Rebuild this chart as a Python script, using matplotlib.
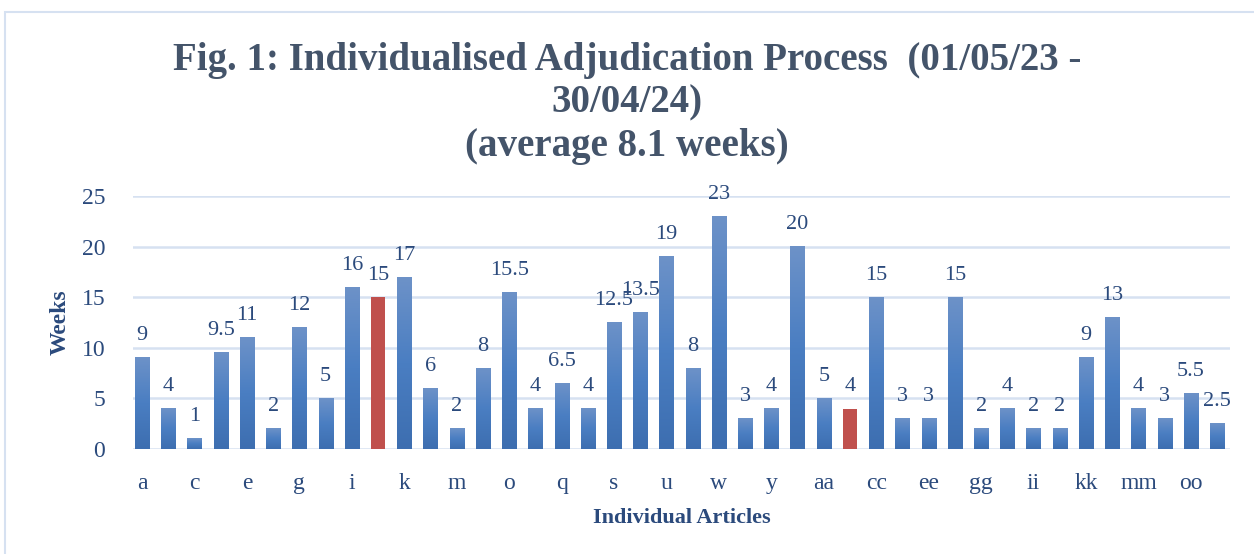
import numpy as np
import matplotlib.pyplot as plt
from matplotlib.patches import Rectangle
from matplotlib.colors import LinearSegmentedColormap

articles = ['a', 'b', 'c', 'd', 'e', 'f', 'g', 'h', 'i', 'j', 'k', 'l', 'm', 'n',
            'o', 'p', 'q', 'r', 's', 't', 'u', 'v', 'w', 'x', 'y', 'z',
            'aa', 'bb', 'cc', 'dd', 'ee', 'ff', 'gg', 'hh', 'ii', 'jj', 'kk', 'll',
            'mm', 'nn', 'oo', 'pp']
weeks = [9, 4, 1, 9.5, 11, 2, 12, 5, 16, 15, 17, 6, 2, 8, 15.5, 4, 6.5, 4, 12.5, 13.5,
         19, 8, 23, 3, 4, 20, 5, 4, 15, 3, 3, 15, 2, 4, 2, 2, 9, 13, 4, 3, 5.5, 2.5]
highlighted = ['j', 'bb']

title = "Fig. 1: Individualised Adjudication Process  (01/05/23 -\n30/04/24)\n(average 8.1 weeks)"

text_col = '#2B4A7C'
title_col = '#44546A'
grid_col = '#D6E1F1'
red = '#C0504D'
grad = LinearSegmentedColormap.from_list('bluegrad', ['#3D6EB0', '#4A7EC2', '#6D92C8'])

plt.rcParams['font.family'] = ['Liberation Serif', 'DejaVu Serif']

fig = plt.figure(figsize=(12.54, 5.54), dpi=100)
ax = fig.add_axes([0.106, 0.1895, 0.875, 0.4565])

x = np.arange(len(articles))
w = 0.54
grad_img = np.linspace(0, 1, 256).reshape(-1, 1)
for xi, name, v in zip(x, articles, weeks):
    if name in highlighted:
        ax.bar(xi, v, width=w, color=red, zorder=3)
    else:
        ax.imshow(grad_img, cmap=grad, origin='lower', aspect='auto',
                  extent=(xi - w / 2, xi + w / 2, 0, v), zorder=3)
    lbl = f'{v:g}'
    ax.annotate(lbl, (xi, v), xytext=(0, 9), textcoords='offset points',
                ha='center', va='bottom', fontsize=16, color=text_col)

ax.set_xlim(-0.35, 41.5)
ax.set_ylim(0, 25)
ax.set_yticks(np.arange(0, 26, 5))
ax.set_xticks(x[::2])
ax.set_xticklabels(articles[::2])
ax.tick_params(axis='both', length=0, labelsize=17, labelcolor=text_col)
ax.tick_params(axis='x', pad=17)
ax.tick_params(axis='y', pad=20)
ax.grid(axis='y', color=grid_col, linewidth=1.8, zorder=0)
ax.set_axisbelow(True)
for s in ax.spines.values():
    s.set_visible(False)

ax.set_ylabel('Weeks', fontsize=17, fontweight='bold', color=text_col, labelpad=8)
ax.set_xlabel('Individual Articles', fontsize=16, fontweight='bold', color=text_col, labelpad=10)

fig.text(0.5, 0.925, title, ha='center', va='top', fontsize=28, fontweight='bold',
         color=title_col, linespacing=1.22)

fig.patches.append(Rectangle((5 / 1254, -0.1), 1.2, 1 - 12 / 554 + 0.1, transform=fig.transFigure,
                             fill=False, edgecolor='#D6E1F1', linewidth=1.5))

fig.savefig('out.png', dpi=100)
